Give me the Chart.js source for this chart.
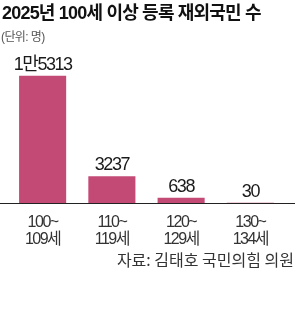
<!DOCTYPE html>
<html><head><meta charset="utf-8">
<script src="https://cdn.jsdelivr.net/npm/chart.js@4/dist/chart.umd.min.js"></script>
<style>
html,body{margin:0;padding:0;background:#fff;}
#wrap{position:relative;width:300px;height:324px;overflow:hidden;background:#fff;}
canvas{position:absolute;left:0;top:0;}
.t{position:absolute;white-space:nowrap;font-family:'Liberation Sans','Noto Sans CJK KR',sans-serif;}
#title{left:2px;top:2px;font-weight:bold;font-size:18px;line-height:22px;letter-spacing:-0.8px;color:#111;}
#unit{left:1px;top:29px;font-size:12px;line-height:16px;letter-spacing:-0.6px;color:#555;}
#src{right:6px;top:250px;font-size:16px;line-height:19px;letter-spacing:0px;color:#333;font-family:'Noto Sans CJK KR',sans-serif;}
</style></head>
<body><div id="wrap">
<canvas id="c" width="300" height="324"></canvas>
<div class="t" id="title">2025년 100세 이상 등록 재외국민 수</div>
<div class="t" id="unit">(단위: 명)</div>
<div class="t" id="src">자료: 김태호 국민의힘 의원</div>
</div>
<script>
const categories = [["100~","109세"],["110~","119세"],["120~","129세"],["130~","134세"]];
const values = [15313, 3237, 638, 30];
const valueLabels = ["1만5313", "3237", "638", "30"];

const fam = "'Liberation Sans','Noto Sans CJK KR',sans-serif";

const extras = {
  id: 'extras',
  beforeDraw(chart) {
    chart.ctx.letterSpacing = '-1.5px';
  },
  afterDatasetsDraw(chart) {
    const ctx = chart.ctx;
    const y0 = chart.scales.y.getPixelForValue(0);
    ctx.save();
    ctx.strokeStyle = '#222';
    ctx.lineWidth = 1;
    ctx.beginPath();
    ctx.moveTo(0, Math.round(y0) + 0.5);
    ctx.lineTo(295, Math.round(y0) + 0.5);
    ctx.stroke();
    const meta = chart.getDatasetMeta(0);
    ctx.fillStyle = '#1a1a1a';
    ctx.font = "18px " + fam;
    ctx.letterSpacing = '-1.5px';
    ctx.textAlign = 'center';
    ctx.textBaseline = 'alphabetic';
    meta.data.forEach((bar, i) => {
      ctx.fillText(valueLabels[i], bar.x, bar.y - 6);
    });
    ctx.restore();
  }
};

new Chart(document.getElementById('c'), {
  type: 'bar',
  data: {
    labels: categories,
    datasets: [{
      data: values,
      backgroundColor: '#C44A76',
      borderWidth: 0,
      categoryPercentage: 1,
      barPercentage: 0.68
    }]
  },
  options: {
    responsive: false,
    animation: false,
    layout: { padding: { left: 8, right: 15, top: 60, bottom: 65 } },
    plugins: { legend: { display: false }, tooltip: { enabled: false }, title: { display: false } },
    scales: {
      x: {
        grid: { display: false, drawTicks: false },
        border: { display: false },
        ticks: { color: '#333', font: { size: 16, family: fam, lineHeight: 1.06 }, padding: 11, maxRotation: 0, autoSkip: false }
      },
      y: {
        display: false,
        min: 0,
        max: 17212
      }
    }
  },
  plugins: [extras]
});
</script>
</body></html>
